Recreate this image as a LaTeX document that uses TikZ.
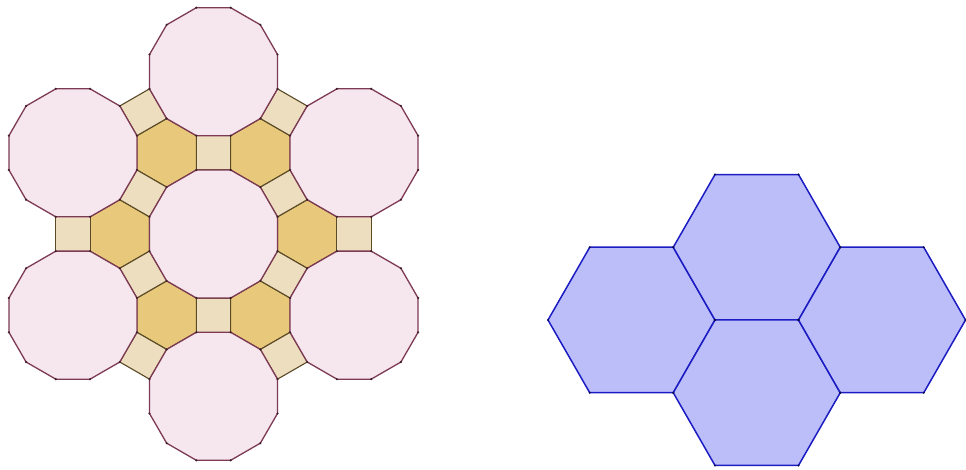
\documentclass[tikz,border=0pt]{standalone}
\usetikzlibrary{calc}
\definecolor{dodfill}{RGB}{246,230,238}
\definecolor{dodedge}{RGB}{125,58,84}
\definecolor{hexfill}{RGB}{232,200,122}
\definecolor{sqfill}{RGB}{237,222,192}
\definecolor{tiledge}{RGB}{90,74,38}
\definecolor{bluefill}{RGB}{188,190,250}
\definecolor{blueedge}{RGB}{28,28,195}
\definecolor{dotcol}{RGB}{60,30,40}
\tikzset{
  dodec/.style={fill=dodfill, draw=dodedge, line width=1.3pt, line join=round},
  hexg/.style={fill=hexfill, draw=tiledge, line width=1.1pt, line join=round},
  sqr/.style={fill=sqfill, draw=tiledge, line width=1.1pt, line join=round},
  bluehex/.style={fill=bluefill, draw=blueedge, line width=1.5pt, line join=round},
  vdot/.style={fill=dotcol, draw=none}
}
\begin{document}
\begin{tikzpicture}[x=1pt,y=1pt]
\useasboundingbox (0,0) rectangle (966,470);
\pgfmathsetmacro{\a}{34.3}
\pgfmathsetmacro{\Rd}{\a/(2*sin(15))}
\pgfmathsetmacro{\dH}{(1+sqrt(3))*\a}
\pgfmathsetmacro{\dSi}{(3+sqrt(3))/2*\a}
\pgfmathsetmacro{\dSo}{1.5*(1+sqrt(3))*\a}
\pgfmathsetmacro{\dD}{(3+sqrt(3))*\a}
\pgfmathsetmacro{\rs}{\a/sqrt(2)}
\coordinate (C) at (213.5,236);
% hexagons
\foreach \j in {0,...,5}{
  \path[hexg] ($(C)+(60*\j:\dH)+(30:\a)$)
    \foreach \k in {1,...,5}{ -- ($(C)+(60*\j:\dH)+(30+60*\k:\a)$) } -- cycle;
}
% inner squares
\foreach \j in {0,...,5}{
  \path[sqr] ($(C)+(90+60*\j:\dSi)+(135+60*\j:\rs)$)
    \foreach \k in {1,...,3}{ -- ($(C)+(90+60*\j:\dSi)+(135+60*\j+90*\k:\rs)$) } -- cycle;
}
% outer squares
\foreach \j in {0,...,5}{
  \path[sqr] ($(C)+(60*\j:\dSo)+(45+60*\j:\rs)$)
    \foreach \k in {1,...,3}{ -- ($(C)+(60*\j:\dSo)+(45+60*\j+90*\k:\rs)$) } -- cycle;
}
% central dodecagon
\path[dodec] ($(C)+(15:\Rd)$)
  \foreach \k in {1,...,11}{ -- ($(C)+(15+30*\k:\Rd)$) } -- cycle;
% outer dodecagons
\foreach \j in {0,...,5}{
  \path[dodec] ($(C)+(90+60*\j:\dD)+(15:\Rd)$)
    \foreach \k in {1,...,11}{ -- ($(C)+(90+60*\j:\dD)+(15+30*\k:\Rd)$) } -- cycle;
}
% vertex dots
\foreach \k in {0,...,11}{
  \fill[vdot] ($(C)+(15+30*\k:\Rd)$) circle (1.2);
}
\foreach \j in {0,...,5}{
  \foreach \k in {0,...,11}{
    \fill[vdot] ($(C)+(90+60*\j:\dD)+(15+30*\k:\Rd)$) circle (1.2);
  }
}
% blue hexagons
\pgfmathsetmacro{\rx}{83.5}
\pgfmathsetmacro{\ry}{84}
\coordinate (bl) at (631.5,150);
\coordinate (bt) at (756.75,222.7);
\coordinate (bb) at (756.75,77.3);
\coordinate (br) at (882,150);
\foreach \c in {bl,bt,bb,br}{
  \path[bluehex] ($(\c)+(\rx,0)$)
    \foreach \k in {1,...,5}{ -- ($(\c)+({\rx*cos(60*\k)},{\ry*sin(60*\k)})$) } -- cycle;
}
\foreach \c in {bl,bt,bb,br}{
  \foreach \k in {0,...,5}{
    \fill[blueedge!40!black] ($(\c)+({\rx*cos(60*\k)},{\ry*sin(60*\k)})$) circle (1.1);
  }
}
\end{tikzpicture}
\end{document}
